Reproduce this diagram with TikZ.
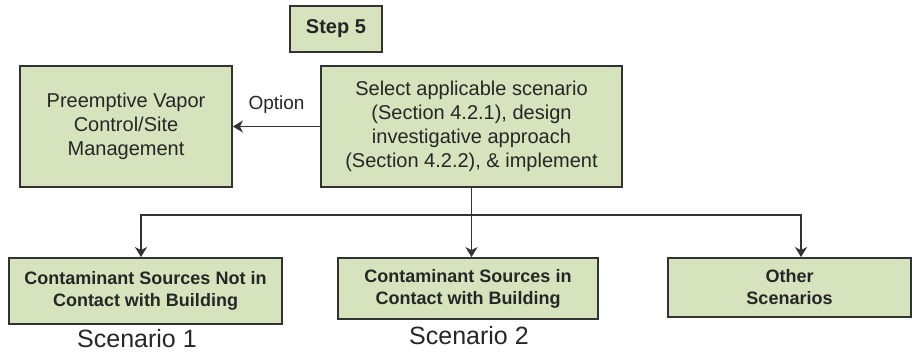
\documentclass[tikz,border=0pt]{standalone}
\usepackage{fontspec}
\setmainfont{Liberation Sans}
\usetikzlibrary{arrows.meta}
\definecolor{boxgreen}{RGB}{214,227,188}
\definecolor{linegray}{RGB}{51,51,51}

\begin{document}
\begin{tikzpicture}[x=1pt,y=-1pt,
    box/.style={draw=linegray,line width=1.8pt,fill=boxgreen,align=center,inner sep=0pt,text=black!85},
    link/.style={draw=linegray,line width=1.8pt},
    tip/.style={-{Stealth[length=10pt,width=12pt,inset=3pt]}}]
    \useasboundingbox (0,0) rectangle (912,354);
    % top row
    \node[box,minimum width=92pt,minimum height=46pt,font=\fontsize{20}{24}\selectfont\bfseries] (step) at (336,29) {Step 5};
    \node[box,minimum width=212pt,minimum height=121pt,font=\fontsize{20}{24}\selectfont] (pvc) at (126,126.5) {Preemptive Vapor\\Control/Site\\Management};
    \node[box,minimum width=301pt,minimum height=121pt,font=\fontsize{20}{24}\selectfont] (sel) at (471.5,126.5) {Select applicable scenario\\(Section 4.2.1), design\\investigative approach\\(Section 4.2.2), \& implement};
    \draw[link,tip] (sel.west) -- (pvc.east) node[midway,above=9pt,font=\fontsize{19}{23}\selectfont,text=black!85] (opt) {Option};
    % scenarios
    \node[box,minimum width=273pt,minimum height=66pt,font=\fontsize{18}{22}\selectfont\bfseries] (s1) at (145.5,291) {Contaminant Sources Not in\\Contact with Building};
    \node[box,minimum width=260pt,minimum height=61pt,font=\fontsize{18}{22}\selectfont\bfseries] (s2) at (468,288.5) {Contaminant Sources in\\Contact with Building};
    \node[box,minimum width=243pt,minimum height=59pt,font=\fontsize{18}{22}\selectfont\bfseries] (other) at (789.5,287.5) {Other\\Scenarios};
    \node[font=\fontsize{25}{29}\selectfont,text=black!85] (scen1) at (137,339) {Scenario 1};
    \node[font=\fontsize{25}{29}\selectfont,text=black!85] (scen2) at (469,336) {Scenario 2};
    % branches
    \coordinate (split) at (sel.south |- 0,215);
    \coordinate (left) at (141,215);
    \coordinate (right) at (801,215);
    \draw[link] (sel.south) -- (split);
    \draw[link,tip] (split) -- (split |- s2.north);
    \draw[link,tip] (split) -- (left) -- (left |- s1.north);
    \draw[link,tip] (split) -- (right) -- (right |- other.north);
\end{tikzpicture}
\end{document}
